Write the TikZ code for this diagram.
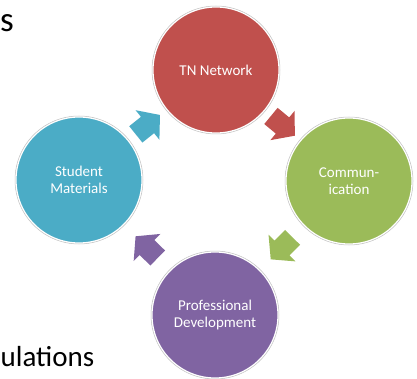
\documentclass[tikz,border=0pt]{standalone}
\usepackage{fontspec}
\setmainfont{Carlito}
\definecolor{cRed}{HTML}{C0504D}
\definecolor{cGreen}{HTML}{9BBB59}
\definecolor{cPurple}{HTML}{8064A2}
\definecolor{cBlue}{HTML}{4BACC6}
\tikzset{
  cyclenode/.style={circle, fill=#1, draw=white, line width=1.2pt, minimum size=126pt,
    inner sep=0pt, align=center, text=white, font=\fontsize{15}{17}\selectfont},
  ringline/.style={draw=black!25, line width=0.5pt},
  bigtext/.style={inner sep=0pt, anchor=base west, font=\fontsize{29}{34}\selectfont, text=black},
}
\newcommand{\blockarrow}{(-15,-10.5) -- (0,-10.5) -- (0,-19) -- (16,0) -- (0,19) -- (0,10.5) -- (-15,10.5) -- cycle}
\begin{document}
\begin{tikzpicture}[x=1pt,y=-1pt]
\useasboundingbox (0,0) rectangle (417,379);
\clip (0,0) rectangle (417,379);
% background text fragments
\node[bigtext, font=\fontsize{35}{40}\selectfont] (s) at (0,31.5) {s};
\node[bigtext] (ul) at (0.5,366.7) {ulations};
% circles
\node[cyclenode=cRed] (top) at (216,70) {TN Network};
\node[cyclenode=cGreen] (right) at (349,181) {Commun-\\ication};
\node[cyclenode=cPurple] (bottom) at (215,315) {Professional\\Development};
\node[cyclenode=cBlue] (left) at (79,180) {Student\\Materials};
\foreach \n in {top,right,bottom,left}{
  \draw[ringline] (\n.center) circle[radius=64];
}
% arrow positions
\path (top) -- (right) coordinate[midway] (a1);
\path (right) -- (bottom) coordinate[midway] (a2);
\path (bottom) -- (left) coordinate[midway] (a3);
\path (left) -- (top) coordinate[midway] (a4);
\begin{scope}[shift={(a1)}, rotate=-39.6]
  \fill[cRed] \blockarrow;
\end{scope}
\begin{scope}[shift={(a2)}, rotate=-134.8]
  \fill[cGreen] \blockarrow;
\end{scope}
\begin{scope}[shift={(a3)}, rotate=135.5]
  \fill[cPurple] \blockarrow;
\end{scope}
\begin{scope}[shift={(a4)}, rotate=38.8]
  \fill[cBlue] \blockarrow;
\end{scope}
\end{tikzpicture}
\end{document}
